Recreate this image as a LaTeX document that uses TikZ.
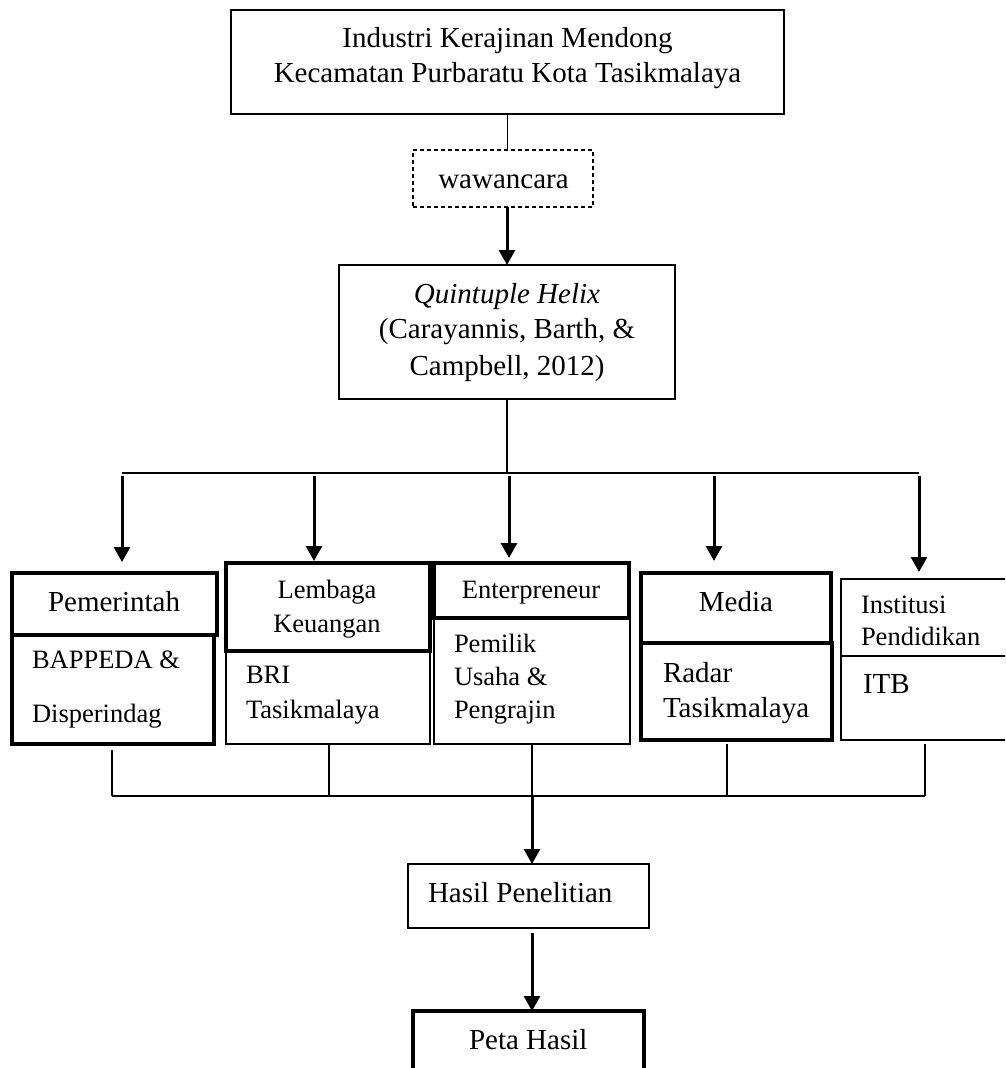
\documentclass[tikz,border=0pt]{standalone}
\usepackage{fontspec}
\setmainfont{Liberation Serif}
\usetikzlibrary{arrows.meta}
\begin{document}
\begin{tikzpicture}[x=1pt,y=-1pt,
  tbox/.style={draw, line width=1.4pt, inner sep=0pt, outer sep=0pt, anchor=north west},
  kbox/.style={draw, line width=3.2pt, inner sep=0pt, outer sep=0pt, anchor=north west},
  dbox/.style={draw, line width=1.4pt, dash pattern=on 4pt off 3pt, inner sep=0pt, outer sep=0pt, anchor=north west},
  conn/.style={line width=1.4pt},
  arr/.style={line width=3pt, -{Triangle[width=16pt,length=15pt]}},
  big/.style={inner sep=0pt, outer sep=0pt, font=\fontsize{29}{36}\selectfont},
  small/.style={inner sep=0pt, outer sep=0pt, font=\fontsize{26.5}{33}\selectfont}
]
\clip (0,0) rectangle (1005,1068);
\fill[white] (0,0) rectangle (1005,1068);

% boxes
\node[tbox, minimum width=553pt, minimum height=104pt] (top) at (231,10) {};
\node[dbox, minimum width=180pt, minimum height=57pt] (waw) at (413,150) {};
\node[tbox, minimum width=336pt, minimum height=134pt] (quin) at (339,265) {};

\node[kbox, minimum width=205pt, minimum height=62pt] (pemH) at (12,573) {};
\node[kbox, minimum width=202pt, minimum height=109pt] (pemB) at (12,635) {};
\node[kbox, minimum width=204pt, minimum height=88pt] (lemH) at (226,563) {};
\node[tbox, minimum width=204pt, minimum height=93pt] (lemB) at (226,651) {};
\node[kbox, minimum width=195pt, minimum height=55pt] (entH) at (434,563) {};
\node[tbox, minimum width=196pt, minimum height=126pt] (entB) at (434,618) {};
\node[kbox, minimum width=190pt, minimum height=70pt] (medH) at (641,573) {};
\node[kbox, minimum width=191pt, minimum height=97pt] (medB) at (641,643) {};
\node[tbox, minimum width=169pt, minimum height=77pt] (insH) at (841,579) {};
\node[tbox, minimum width=169pt, minimum height=84pt] (insB) at (841,656) {};

\node[tbox, minimum width=241pt, minimum height=64pt] (has) at (408,864) {};
\node[kbox, minimum width=231pt, minimum height=69pt] (peta) at (413,1011) {};

% texts
\node[big, anchor=base] (t1) at (507.5,47) {Industri Kerajinan Mendong};
\node[big, anchor=base] (t2) at (507.5,82) {Kecamatan Purbaratu Kota Tasikmalaya};
\node[big, anchor=base] (tw) at (503.5,188) {wawancara};
\node[big, anchor=base] (q1) at (507,303) {\itshape Quintuple Helix};
\node[big, anchor=base] (q2) at (507,338) {(Carayannis, Barth, \&};
\node[big, anchor=base] (q3) at (507,375) {Campbell, 2012)};

\node[big, anchor=base west] (tp) at (48,611) {Pemerintah};
\node[small, anchor=base west] (tp1) at (32,668) {BAPPEDA \&};
\node[small, anchor=base west] (tp2) at (32,722) {Disperindag};

\node[small, anchor=base] (tl1) at (327,598) {Lembaga};
\node[small, anchor=base] (tl2) at (327,632) {Keuangan};
\node[small, anchor=base west] (tl3) at (246,683) {BRI};
\node[small, anchor=base west] (tl4) at (246,718) {Tasikmalaya};

\node[small, anchor=base] (te) at (531,598) {Enterpreneur};
\node[small, anchor=base west] (te1) at (454,652) {Pemilik};
\node[small, anchor=base west] (te2) at (454,685) {Usaha \&};
\node[small, anchor=base west] (te3) at (454,718) {Pengrajin};

\node[big, anchor=base] (tm) at (736,611) {Media};
\node[big, anchor=base west] (tm1) at (663,682) {Radar};
\node[big, anchor=base west] (tm2) at (663,717) {Tasikmalaya};

\node[small, anchor=base west] (ti1) at (861,613) {Institusi};
\node[small, anchor=base west] (ti2) at (861,645) {Pendidikan};
\node[big, anchor=base west] (ti3) at (863,693) {ITB};

\node[big, anchor=base west] (th) at (428,902) {Hasil Penelitian};
\node[big, anchor=base west] (tpe) at (469,1049) {Peta Hasil};

% upper connectors
\draw[conn] (top.south) -- (top.south |- waw.north);
\draw[arr] (quin.north |- waw.south) -- (quin.north);
\coordinate (busL) at (122,473);
\coordinate (busR) at (919,473);
\draw[conn] (quin.south) -- (quin.south |- busL);
\draw[conn] (busL) -- (busR);

\coordinate (a1s) at (122,476); \coordinate (a1e) at (122,562);
\coordinate (a2s) at (314,476); \coordinate (a2e) at (314,561);
\coordinate (a3s) at (509,476); \coordinate (a3e) at (509,558);
\coordinate (a4s) at (714,476); \coordinate (a4e) at (714,561);
\coordinate (a5s) at (919,476); \coordinate (a5e) at (919,572);
\draw[arr] (a1s) -- (a1e);
\draw[arr] (a2s) -- (a2e);
\draw[arr] (a3s) -- (a3e);
\draw[arr] (a4s) -- (a4e);
\draw[arr] (a5s) -- (a5e);

% lower connectors
\coordinate (jL) at (112,796);
\coordinate (jR) at (925,796);
\coordinate (p1) at (112,750);
\coordinate (l1) at (329,744);
\coordinate (m1) at (727,744);
\coordinate (i1) at (925,744);
\coordinate (jE) at (532,796);
\draw[conn] (p1) -- (jL);
\draw[conn] (jL) -- (jR);
\draw[conn] (l1) -- (l1 |- jL);
\draw[conn] (entB.south -| jE) -- (jE);
\draw[conn] (m1) -- (m1 |- jL);
\draw[conn] (i1) -- (jR);
\draw[arr] (jE) -- (jE |- has.north);
\coordinate (h1) at (532,933);
\draw[arr] (h1) -- (h1 |- peta.north);
\end{tikzpicture}
\end{document}
